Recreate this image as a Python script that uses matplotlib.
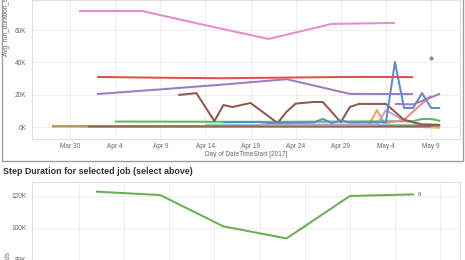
import matplotlib
matplotlib.use("Agg")
import matplotlib.pyplot as plt
import matplotlib.dates as mdates
from matplotlib.patches import Rectangle
import datetime as dt

plt.rcParams['font.family'] = ['Liberation Sans', 'DejaVu Sans']

# ---- data: top chart (avg run duration per job, by day) ----
pink_dates = ['2017-03-31', '2017-04-07', '2017-04-14', '2017-04-21', '2017-04-28', '2017-05-05']
pink_vals = [71800, 71800, 63000, 54500, 63800, 64400]

red_dates = ['2017-04-02', '2017-04-09', '2017-04-16', '2017-04-23', '2017-04-30', '2017-05-07']
red_vals = [31000, 30500, 30200, 30600, 31000, 30900]

purple_dates = ['2017-04-02', '2017-04-09', '2017-04-16', '2017-04-23', '2017-04-30', '2017-05-07']
purple_vals = [20400, 23300, 26300, 29600, 20500, 20400]

purple2_dates = ['2017-05-05', '2017-05-07', '2017-05-10']
purple2_vals = [14300, 14000, 20600]

brown_dates = ['2017-04-11', '2017-04-13', '2017-04-15', '2017-04-16', '2017-04-17', '2017-04-19',
               '2017-04-22', '2017-04-23', '2017-04-24', '2017-04-26', '2017-04-27', '2017-04-29',
               '2017-04-30', '2017-05-01', '2017-05-04', '2017-05-06', '2017-05-08', '2017-05-10']
brown_vals = [19800, 21000, 3700, 13600, 12400, 14900,
              2500, 9500, 14500, 15500, 15500, 3000,
              12400, 14300, 14300, 4500, 1500, 1200]

blue_dates = ['2017-04-16', '2017-04-20', '2017-04-21', '2017-04-26', '2017-04-27', '2017-04-28',
              '2017-04-29', '2017-04-30', '2017-05-04', '2017-05-05', '2017-05-06', '2017-05-07',
              '2017-05-08', '2017-05-09', '2017-05-10']
blue_vals = [3000, 3200, 2500, 2800, 5000, 2500,
             4000, 2800, 3000, 40200, 11800, 11800,
             21000, 11800, 11800]

blue_dot_date = ['2017-05-09']
blue_dot_val = [42500]

green_dates = ['2017-04-04', '2017-04-20', '2017-05-07', '2017-05-08', '2017-05-09', '2017-05-10']
green_vals = [3400, 3200, 3600, 5000, 5000, 3800]

salmon_dates = ['2017-05-04', '2017-05-06', '2017-05-09']
salmon_vals = [2500, 4500, 19500]

lavender_dates = ['2017-04-20', '2017-05-03', '2017-05-04', '2017-05-06', '2017-05-08', '2017-05-10']
lavender_vals = [1500, 1500, 10500, 4000, 1800, 1500]

orange_dates = ['2017-04-20', '2017-05-02', '2017-05-03', '2017-05-04', '2017-05-10']
orange_vals = [300, 300, 10500, 700, -400]

olive_dates = ['2017-03-28', '2017-05-10']
olive_vals = [600, 700]

pink0_dates = ['2017-03-28', '2017-04-01', '2017-05-10']
pink0_vals = [200, 100, 200]

brown0_dates = ['2017-04-01', '2017-05-09']
brown0_vals = [300, 400]

cyan_dates = ['2017-04-14', '2017-05-10']
cyan_vals = [1500, 1300]

# ---- data: bottom chart (step duration for selected job) ----
step_dates = ['2017-04-02', '2017-04-09', '2017-04-16', '2017-04-23', '2017-04-30', '2017-05-07']
step_vals = [122700, 120600, 101000, 93500, 120000, 121000]

top_ticks = ['2017-03-30', '2017-04-04', '2017-04-09', '2017-04-14', '2017-04-19',
             '2017-04-24', '2017-04-29', '2017-05-04', '2017-05-09']
top_tick_labels = ['Mar 30', 'Apr 4', 'Apr 9', 'Apr 14', 'Apr 19', 'Apr 24', 'Apr 29', 'May 4', 'May 9']
bottom_ticks = ['2017-03-31', '2017-04-05', '2017-04-10', '2017-04-15', '2017-04-20',
                '2017-04-25', '2017-04-30', '2017-05-05', '2017-05-10']


def d(lst):
    return [dt.datetime.strptime(s, '%Y-%m-%d') for s in lst]


W, H = 465, 260
fig = plt.figure(figsize=(W / 100, H / 100), dpi=100)

base = dt.datetime(2017, 3, 30)
xmin = base + dt.timedelta(days=-4.2)
xmax = base + dt.timedelta(days=43.2)

grid_c = '#ebebeb'
spine_c = '#d9d9d9'
text_c = '#666666'

# panel frame for the top sheet
fig.add_artist(Rectangle((2 / W, 1 - 161 / H), 461 / W, 170 / H, transform=fig.transFigure,
                         fill=False, edgecolor='#a0a0a0', lw=1.0))

# ---- top axes ----
ax = fig.add_axes([32 / W, 1 - 139 / H, 428 / W, 139 / H])
ax.set_xlim(xmin, xmax)
ax.set_ylim(-7400, 78600)

lw = 1.45
series = [
    (orange_dates, orange_vals, '#f5a04a'),
    (cyan_dates, cyan_vals, '#9ec9e2'),
    (pink0_dates, pink0_vals, '#e8a0c8'),
    (olive_dates, olive_vals, '#a8a060'),
    (brown0_dates, brown0_vals, '#8c6a5a'),
    (green_dates, green_vals, '#5cb85c'),
    (lavender_dates, lavender_vals, '#b9a2d6'),
    (salmon_dates, salmon_vals, '#f08a80'),
    (brown_dates, brown_vals, '#8c5a4f'),
    (blue_dates, blue_vals, '#5b8cc6'),
    (purple2_dates, purple2_vals, '#9a7cc4'),
    (purple_dates, purple_vals, '#9a7cc4'),
    (red_dates, red_vals, '#e0504a'),
    (pink_dates, pink_vals, '#e58ccb'),
]
for ds, vs, c in series:
    ax.plot(d(ds), vs, color=c, lw=lw, solid_capstyle='butt')
ax.plot(d(blue_dot_date), blue_dot_val, 'o', color='#6a9ab0', ms=2)

ax.set_xticks(d(top_ticks))
ax.set_xticklabels(top_tick_labels)
ax.set_yticks([0, 20000, 40000, 60000])
ax.set_yticklabels(['0K', '20K', '40K', '60K'])
ax.tick_params(length=0, labelsize=4.7, colors=text_c, pad=4)
ax.tick_params(axis='x', pad=3)
ax.grid(True, color=grid_c, lw=0.6)
ax.set_axisbelow(True)
for s in ax.spines.values():
    s.set_color(spine_c)
    s.set_linewidth(0.6)

fig.text(246 / W, 1 - 154.5 / H, 'Day of DateTimeStart [2017]', ha='center', va='center',
         fontsize=4.7, color=text_c)
fig.text(7 / W, 1 - 56 / H, 'Avg. run_duration_seconds', rotation=90, ha='center', va='bottom',
         fontsize=4.7, color=text_c)

# ---- bottom sheet ----
fig.text(3 / W, 1 - 172 / H, 'Step Duration for selected job (select above)', ha='left', va='center',
         fontsize=6.4, fontweight='bold', color='#333333')

ax2 = fig.add_axes([32 / W, 1 - 300 / H, 428 / W, 118 / H])
ax2.set_xlim(xmin, xmax)
ax2.set_ylim(120000 - 104 / 1.6 * 1000, 120000 + 14 / 1.6 * 1000)
ax2.plot(d(step_dates), step_vals, color='#6aae55', lw=1.45)
ax2.text(d(step_dates)[-1] + dt.timedelta(days=0.5), step_vals[-1], '9', fontsize=4.2,
         color='#555555', va='center', ha='left')
ax2.set_xticks(d(bottom_ticks))
ax2.set_xticklabels([])
ax2.set_yticks([60000, 80000, 100000, 120000])
ax2.set_yticklabels(['60K', '80K', '100K', '120K'])
ax2.tick_params(length=0, labelsize=4.7, colors=text_c, pad=4)
ax2.grid(True, color=grid_c, lw=0.6)
ax2.set_axisbelow(True)
for s in ax2.spines.values():
    s.set_color(spine_c)
    s.set_linewidth(0.6)

fig.text(8 / W, 1 - 252 / H, 'Avg. step_duration_seconds', rotation=90, ha='center', va='top',
         fontsize=4.7, color=text_c)

fig.savefig('out.png', dpi=100)
